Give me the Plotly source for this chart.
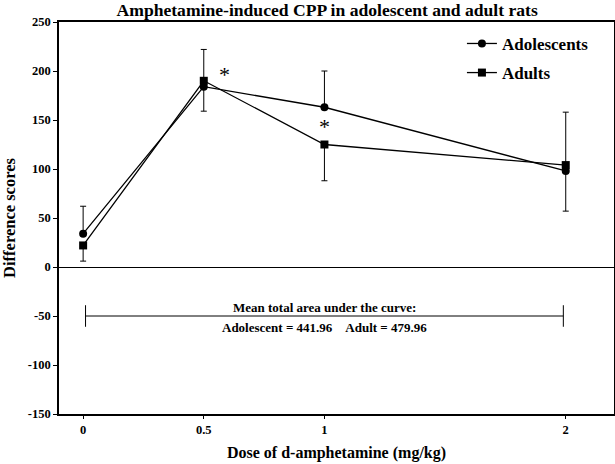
import plotly.graph_objects as go

doses = [0, 0.5, 1, 2]
adolescents = [34, 184, 163, 98]
adults = [22, 190, 125, 104]
adol_err_plus = [28, 0, 37, 0]
adol_err_minus = [0, 25, 0, 41]
adult_err_plus = [0, 32, 0, 54]
adult_err_minus = [16, 0, 37, 0]
y_ticks = [-150, -100, -50, 0, 50, 100, 150, 200, 250]
y_tick_labels = ["-150", "-100", "-50", "0", "50", "100", "150", "200", "250"]
x_ticks = [0, 0.5, 1, 2]
x_tick_labels = ["0", "0.5", "1", "2"]
sig_points = [(0.584, 196), (1.0, 143)]
auc_span = (0.01, 1.99)
auc_level = -50
auc_text1 = "Mean total area under the curve:"
auc_text2 = "Adolescent = 441.96&nbsp;&nbsp;&nbsp;&nbsp;Adult = 479.96"

FONT = "Liberation Serif"

fig = go.Figure()
fig.add_trace(go.Scatter(
    x=doses, y=adolescents, name="Adolescents", mode="lines+markers",
    legendgroup="adol",
    line=dict(color="black", width=1.3),
    marker=dict(symbol="circle", size=8, color="black"),
    error_y=dict(type="data", symmetric=False, array=adol_err_plus,
                 arrayminus=adol_err_minus, color="black", thickness=1, width=3),
))
fig.add_trace(go.Scatter(
    x=doses, y=adults, name="Adults", mode="lines+markers",
    legendgroup="adult",
    line=dict(color="black", width=1.3),
    marker=dict(symbol="square", size=8, color="black"),
    error_y=dict(type="data", symmetric=False, array=adult_err_plus,
                 arrayminus=adult_err_minus, color="black", thickness=1, width=3),
))

for (sx, sy) in sig_points:
    fig.add_annotation(x=sx, y=sy, text="*", showarrow=False,
                       font=dict(family=FONT, size=22, color="black"))

# AUC bracket
fig.add_shape(type="line", x0=auc_span[0], x1=auc_span[1], y0=auc_level, y1=auc_level,
              line=dict(color="black", width=1))
for xe in auc_span:
    fig.add_shape(type="line", x0=xe, x1=xe, y0=auc_level - 11, y1=auc_level + 11,
                  line=dict(color="black", width=1))
mid = (auc_span[0] + auc_span[1]) / 2
fig.add_annotation(x=mid, y=auc_level, yshift=9, text=auc_text1, showarrow=False,
                   font=dict(family=FONT, size=13, color="black", weight="bold"))
fig.add_annotation(x=mid, y=auc_level, yshift=-11, text=auc_text2, showarrow=False,
                   font=dict(family=FONT, size=13, color="black", weight="bold"))

fig.update_layout(
    width=615, height=464,
    margin=dict(l=59, r=1, t=22, b=50),
    paper_bgcolor="white", plot_bgcolor="white",
    title=dict(text="Amphetamine-induced CPP in adolescent and adult rats",
               x=0.532, xanchor="center", y=0.978, yanchor="middle",
               font=dict(family=FONT, size=17.6, color="black", weight="bold")),
    legend=dict(x=0.726, y=0.99, xanchor="left", yanchor="top",
                bgcolor="rgba(0,0,0,0)", tracegroupgap=4,
                font=dict(family=FONT, size=17, color="black", weight="bold")),
    showlegend=True,
)
fig.update_xaxes(
    range=[-0.1, 2.2], tickvals=x_ticks, ticktext=x_tick_labels, automargin=False,
    showgrid=False, zeroline=False, showline=True, linecolor="black", linewidth=1.5,
    mirror=True,
    ticks="outside", ticklen=3, tickcolor="black",
    tickfont=dict(family=FONT, size=12.5, color="black", weight="bold"),
    title=dict(text="Dose of d-amphetamine (mg/kg)", standoff=11,
               font=dict(family=FONT, size=16, color="black", weight="bold")),
)
fig.update_yaxes(
    range=[-150, 250], tickvals=y_ticks, ticktext=y_tick_labels, automargin=False,
    showgrid=False, zeroline=True, zerolinecolor="black", zerolinewidth=1.2,
    showline=True, linecolor="black", linewidth=1.5, mirror=True,
    ticks="outside", ticklen=4, tickcolor="black",
    tickfont=dict(family=FONT, size=12.5, color="black", weight="bold"),
    title=dict(text="Difference scores", standoff=12,
               font=dict(family=FONT, size=16.5, color="black", weight="bold")),
)

fig.write_html("out.html", config={"displayModeBar": False},
               post_script="document.body.style.margin='0';document.body.style.overflow='hidden';")
